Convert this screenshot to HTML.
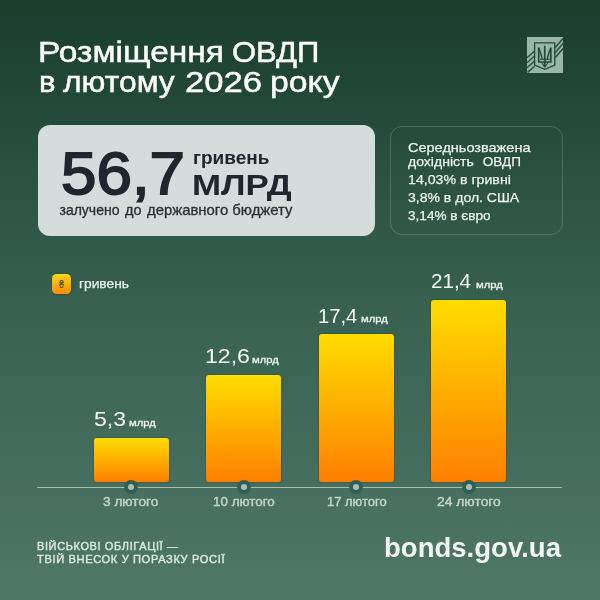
<!DOCTYPE html>
<html lang="uk">
<head>
<meta charset="utf-8">
<title>Розміщення ОВДП в лютому 2026 року</title>
<style>
html,body{margin:0;padding:0;}
body{width:600px;height:600px;overflow:hidden;position:relative;font-family:"Liberation Sans",sans-serif;color:#fff;
background:linear-gradient(180deg,#193e2c 0%,#23493a 18%,#2e5546 34.7%,#386150 51.3%,#40695a 68%,#486f60 83%,#4e7867 100%);}
.abs{position:absolute;white-space:nowrap;line-height:1;transform-origin:0 0;}
.title{font-size:29px;line-height:29.5px;color:#fff;transform:scaleX(1.12);-webkit-text-stroke:.45px #fff;}
.card{position:absolute;left:38px;top:125px;width:337px;height:111px;border-radius:12px;background:#d4dddb;}
.dk{color:#20262e;font-weight:bold;}
.sub{left:59.5px;top:203px;font-size:14px;color:#2a3036;transform:scaleX(1.055);-webkit-text-stroke:.3px #2a3036;}
.info{position:absolute;left:390px;top:126px;width:173px;height:109px;border-radius:12px;border:1.3px solid rgba(255,255,255,.17);box-sizing:border-box;}
.il{left:408px;font-size:13.5px;color:#eef3f0;-webkit-text-stroke:.25px #eef3f0;}
.legicon{box-shadow:0 0 1.5px rgba(40,40,10,.9);position:absolute;left:52px;top:274px;width:19.2px;height:19.5px;border-radius:4.5px;background:linear-gradient(180deg,#ffd61a 0%,#ffb010 50%,#ff8c08 100%);}
.legicon span{position:absolute;left:0;top:1px;width:19.2px;height:19.5px;text-align:center;line-height:19.5px;font-size:11px;color:#4d5510;-webkit-text-stroke:.3px #4d5510;transform:scaleX(.78);}
.legtxt{left:79px;top:277px;font-size:13.5px;color:#eef3f0;transform:scaleX(1.02);-webkit-text-stroke:.25px #eef3f0;}
.bar{position:absolute;width:75px;border-radius:3px;box-shadow:0 0 1.5px rgba(25,50,30,.9);background:linear-gradient(180deg,#ffdd00 0%,#ffae00 50%,#ff7f00 100%);}
.axis{position:absolute;left:37px;top:486.5px;width:525.3px;height:1.6px;border-radius:1px;background:#a0c2b4;}
.dot{position:absolute;width:6px;height:6px;border-radius:50%;background:#a9bfb9;box-shadow:0 0 0 3.9px #325f52;top:484.25px;}
.val{font-size:21px;color:#f4f7f5;transform:scaleX(1.1);}
.unit{font-size:9.6px;color:#eef3f0;-webkit-text-stroke:.3px #eef3f0;transform:scaleX(1.17);}
.lab{font-size:12px;color:#c4d4cd;-webkit-text-stroke:.4px #c4d4cd;}
.foot{left:36.7px;font-size:10.5px;color:#dce8e2;-webkit-text-stroke:.4px #dce8e2;letter-spacing:.6px;}
.site{left:383.5px;top:535.3px;font-size:27px;font-weight:bold;color:#f4f7f5;transform:scaleX(1.02);}
</style>
</head>
<body>
<div class="abs title" style="left:38.4px;top:38px;transform:scaleX(1.155)">Розміщення</div>
<div class="abs title" style="left:232.2px;top:38px;transform:scaleX(1.069)">ОВДП</div>
<div class="abs title" style="left:38.5px;top:67.5px;transform:scaleX(1.07)">в</div>
<div class="abs title" style="left:63.3px;top:67.5px;transform:scaleX(1.097)">лютому</div>
<div class="abs title" style="left:184.8px;top:67.5px;transform:scaleX(1.195)">2026</div>
<div class="abs title" style="left:269.5px;top:67.5px;transform:scaleX(1.165)">року</div>

<svg class="abs" style="left:527px;top:37px" width="36" height="36" viewBox="0 0 36 36">
<rect x="0" y="0" width="36" height="36" fill="#9ab6a8"/>
<g stroke="#2a5040" stroke-width="1.5" fill="none">
<path d="M0 20.7 L7.6 14 M0 25.7 L7.6 19 M0 30.7 L7.6 24 M0.6 35.4 L7.6 29.2"/>
<path d="M27.8 11 L36 1.6 M27.8 16 L36 6.6 M27.8 21 L36 11.6"/>
</g>
<path d="M7.6 5.9 H27.8 V28 L17.7 32.3 L7.6 28 Z" fill="#9ab6a8" stroke="#224838" stroke-width="1.3" stroke-linejoin="miter"/>
<g stroke="#224838" fill="none" stroke-linecap="butt">
<path d="M11.7 10.6 V25 H23.8 V10.6" stroke-width="1.7"/>
<path d="M12 11.2 C13.2 15 14.6 18.5 15.3 22.3 M23.5 11.2 C22.3 15 20.9 18.5 20.2 22.3" stroke-width="1.35"/>
<path d="M13 22.3 H22.5" stroke-width="1"/>
<path d="M17.75 8.8 V30" stroke-width="1.7"/>
<path d="M14.8 25 C15 27.5 16.5 28.3 17.75 29.8 C19 28.3 20.5 27.5 20.7 25" stroke-width="1.1"/>
</g>
</svg>

<div class="card"></div>
<div class="abs dk" style="left:61.2px;top:144px;font-size:59.5px;transform:scaleX(1.071);font-weight:normal;-webkit-text-stroke:1.8px #20262e">56,7</div>
<div class="abs dk" style="left:193px;top:148.4px;font-size:19px;">гривень</div>
<div class="abs dk" style="left:191.7px;top:170px;font-size:30px;transform:scaleX(1.164)">МЛРД</div>
<div class="abs sub" style="transform:scaleX(1.0)">залучено</div>
<div class="abs sub" style="left:124.6px;transform:scaleX(1.03)">до</div>
<div class="abs sub" style="left:146.8px;transform:scaleX(1.062)">державного бюджету</div>

<div class="info"></div>
<div class="abs il" style="top:141.1px;transform:scaleX(1.075)">Середньозважена</div>
<div class="abs il" style="top:154.9px;transform:scaleX(1.04)">дохідність</div>
<div class="abs il" style="left:482.8px;top:154.9px;transform:scaleX(1.0)">ОВДП</div>
<div class="abs il" style="top:172.8px;transform:scaleX(1.049)">14,03% в гривні</div>
<div class="abs il" style="top:191.1px;transform:scaleX(1.039)">3,8% в дол. США</div>
<div class="abs il" style="top:208.6px;transform:scaleX(1.007)">3,14% в євро</div>

<div class="legicon"><span>₴</span></div>
<div class="abs legtxt">гривень</div>

<div class="axis"></div>
<div class="bar" style="left:93.5px;top:437.5px;height:44.3px"></div>
<div class="bar" style="left:206.1px;top:375px;height:106.8px"></div>
<div class="bar" style="left:318.7px;top:334.2px;height:147.6px"></div>
<div class="bar" style="left:431.3px;top:299.7px;height:182.1px"></div>
<div class="dot" style="left:128px"></div>
<div class="dot" style="left:240.6px"></div>
<div class="dot" style="left:353.2px"></div>
<div class="dot" style="left:465.8px"></div>

<div class="abs val" style="left:93.5px;top:408px">5,3</div>
<div class="abs unit" style="left:129.2px;top:417.7px">млрд</div>
<div class="abs val" style="left:205px;top:345px">12,6</div>
<div class="abs unit" style="left:252.2px;top:354.7px">млрд</div>
<div class="abs val" style="left:318px;top:304.7px;transform:scaleX(.96)">17,4</div>
<div class="abs unit" style="left:360.8px;top:314.4px">млрд</div>
<div class="abs val" style="left:431px;top:270.2px;transform:scaleX(.98)">21,4</div>
<div class="abs unit" style="left:475.8px;top:279.9px">млрд</div>

<div class="abs lab" style="left:103px;top:495.6px;transform:scaleX(1.1375)">3 лютого</div>
<div class="abs lab" style="left:212.5px;top:495.6px;transform:scaleX(1.118)">10 лютого</div>
<div class="abs lab" style="left:326.5px;top:495.6px;transform:scaleX(1.08)">17 лютого</div>
<div class="abs lab" style="left:436.5px;top:495.6px;transform:scaleX(1.155)">24 лютого</div>

<div class="abs foot" style="top:541.3px;transform:scaleX(1.045)">ВІЙСЬКОВІ ОБЛІГАЦІЇ —</div>
<div class="abs foot" style="top:553.5px;transform:scaleX(1.056)">ТВІЙ ВНЕСОК У ПОРАЗКУ РОСІЇ</div>
<div class="abs site">bonds.gov.ua</div>
</body>
</html>
